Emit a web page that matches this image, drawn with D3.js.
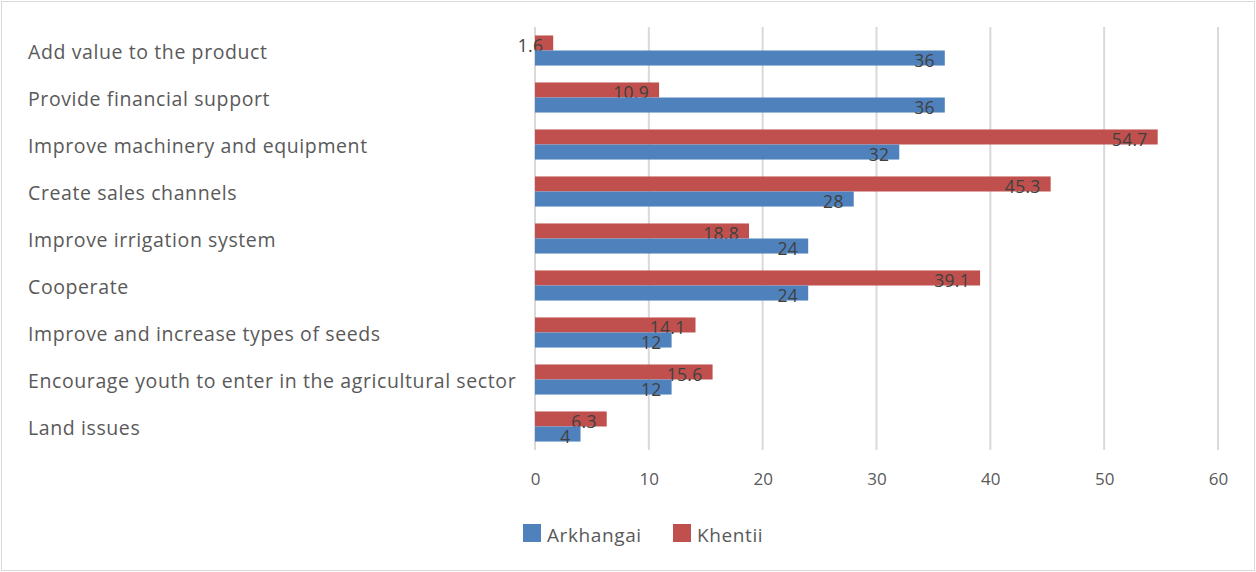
<!DOCTYPE html>
<html><head><meta charset="utf-8">
<script src="https://cdn.jsdelivr.net/npm/d3@7"></script>
<style>body{margin:0;background:#fff}svg{display:block}text{font-family:"Open Sans",sans-serif}</style>
</head><body><svg id="c" width="1256" height="572"></svg>
<script>
const categories = ["Add value to the product","Provide financial support","Improve machinery and equipment","Create sales channels","Improve irrigation system","Cooperate","Improve and increase types of seeds","Encourage youth to enter in the agricultural sector","Land issues"];
const seriesNames = ["Khentii","Arkhangai"];
const arkhangai = [36,36,32,28,24,24,12,12,4];
const khentii = [1.6,10.9,54.7,45.3,18.8,39.1,14.1,15.6,6.3];
const xTicks = [0,10,20,30,40,50,60];
const colors = {Arkhangai:"#4f81bd", Khentii:"#c0504d"};

const svg = d3.select("#c");
svg.append("rect").attr("x",1.5).attr("y",1.5).attr("width",1253).attr("height",569).attr("fill","#fff").attr("stroke","#d9d9d9");

const x = d3.scaleLinear().domain([0,60]).range([535,1218]);
const y = d3.scaleBand().domain(categories).range([27,450]).paddingInner(0.36).paddingOuter(0.18);
const ys = d3.scaleBand().domain(seriesNames).range([0,y.bandwidth()]);

// grid
svg.append("g").selectAll("line").data(xTicks).join("line")
  .attr("x1",d=>x(d)).attr("x2",d=>x(d)).attr("y1",27).attr("y2",450)
  .attr("stroke","#d9d9d9").attr("stroke-width",2);

// axis labels
const ax = svg.append("g").attr("transform","translate(0,450)")
  .call(d3.axisBottom(x).tickValues(xTicks).tickSize(0).tickPadding(23));
ax.select(".domain").remove();
ax.selectAll("text").attr("fill","#595959").attr("font-size",17).attr("font-family","Open Sans");

// category labels
svg.append("g").selectAll("text").data(categories).join("text")
  .attr("x",28).attr("y",d=>y(d)+y.bandwidth()/2+2).attr("dy","0.35em")
  .attr("fill","#595959").attr("font-size",19.5).attr("letter-spacing",0.6).text(d=>d);

const rows = categories.map((c,i)=>({c, Khentii:khentii[i], Arkhangai:arkhangai[i]}));
seriesNames.forEach(s=>{
  const g = svg.append("g");
  g.selectAll("rect").data(rows).join("rect")
    .attr("x",x(0)).attr("y",d=>y(d.c)+ys(s)).attr("width",d=>x(d[s])-x(0)).attr("height",ys.bandwidth())
    .attr("fill",colors[s]);
  g.selectAll("text").data(rows).join("text")
    .attr("x",d=>x(d[s])-10).attr("y",d=>y(d.c)+ys(s)+ys.bandwidth()/2+3).attr("dy","0.35em")
    .attr("text-anchor","end").attr("fill","#404040").attr("font-size",17.5).attr("letter-spacing",0.3).text(d=>d[s]);
});

// legend
const legend = [{n:"Arkhangai",x:523},{n:"Khentii",x:673}];
const lg = svg.append("g");
legend.forEach(l=>{
  lg.append("rect").attr("x",l.x).attr("y",524).attr("width",18).attr("height",18).attr("fill",colors[l.n]);
  lg.append("text").attr("x",l.x+24).attr("y",535).attr("dy","0.35em").attr("fill","#595959").attr("font-size",19).attr("letter-spacing",0.6).text(l.n);
});
</script></body></html>
